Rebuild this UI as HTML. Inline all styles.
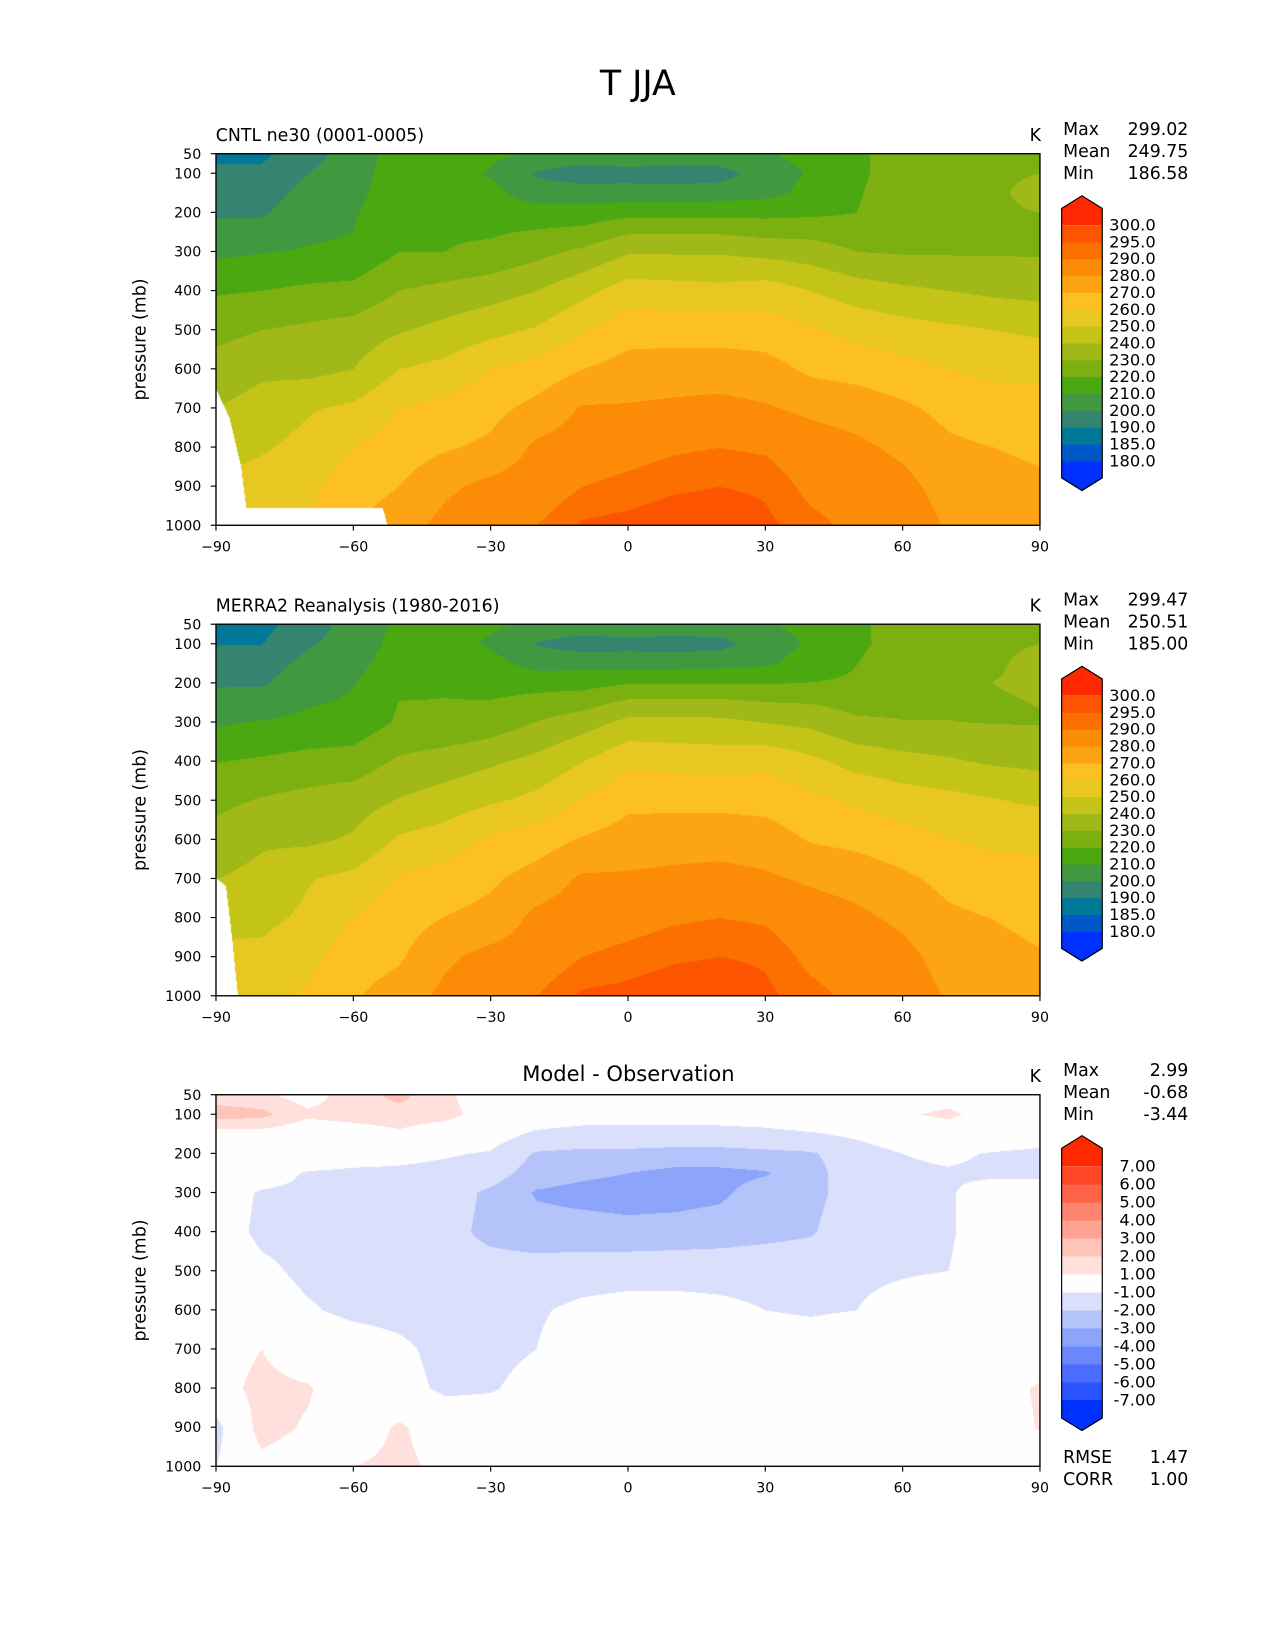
<!DOCTYPE html>
<html><head><meta charset="utf-8">
<style>
html,body{margin:0;padding:0;background:#fff;}
#root{position:relative;width:1275px;height:1650px;overflow:hidden;background:#fff;}
canvas{position:absolute;}
svg{position:absolute;left:0;top:0;}
text{font-family:"DejaVu Sans","Liberation Sans",sans-serif;fill:#000;}
</style></head>
<body>
<div id="root">
<canvas id="c1"></canvas>
<canvas id="c2"></canvas>
<canvas id="c3"></canvas>
<svg id="ov" width="1275" height="1650" viewBox="0 0 1211.3 1567.5">
<text x="606" y="90" font-size="33" text-anchor="middle">T JJA</text>
<text x="205" y="134" font-size="16.5">CNTL ne30 (0001-0005)</text>
<text x="205" y="581" font-size="16.5">MERRA2 Reanalysis (1980-2016)</text>
<text x="597" y="1027" font-size="20" text-anchor="middle">Model - Observation</text>
<text x="989" y="134" font-size="16.5" text-anchor="end">K</text>
<text x="989" y="581" font-size="16.5" text-anchor="end">K</text>
<text x="989" y="1028" font-size="16.5" text-anchor="end">K</text>
<g font-size="16.5">
<text x="1010" y="128">Max</text><text x="1129" y="128" text-anchor="end">299.02</text>
<text x="1010" y="149">Mean</text><text x="1129" y="149" text-anchor="end">249.75</text>
<text x="1010" y="170">Min</text><text x="1129" y="170" text-anchor="end">186.58</text>
</g>
<g font-size="16.5">
<text x="1010" y="575">Max</text><text x="1129" y="575" text-anchor="end">299.47</text>
<text x="1010" y="596">Mean</text><text x="1129" y="596" text-anchor="end">250.51</text>
<text x="1010" y="617">Min</text><text x="1129" y="617" text-anchor="end">185.00</text>
</g>
<g font-size="16.5">
<text x="1010" y="1022">Max</text><text x="1129" y="1022" text-anchor="end">2.99</text>
<text x="1010" y="1043">Mean</text><text x="1129" y="1043" text-anchor="end">-0.68</text>
<text x="1010" y="1064">Min</text><text x="1129" y="1064" text-anchor="end">-3.44</text>
<text x="1010" y="1390">RMSE</text><text x="1129" y="1390" text-anchor="end">1.47</text>
<text x="1010" y="1411">CORR</text><text x="1129" y="1411" text-anchor="end">1.00</text>
</g>
<g id="axes"></g>
</svg>
</div>
<script>
// ---- data ----
const P = [50,100,150,200,250,300,400,500,600,700,800,900,1000];
const lats = [-90,-80,-70,-60,-50,-40,-30,-20,-10,0,10,20,30,40,50,60,70,80,90];
const cntlT = [
[188,188,196,205,214,214,212,209,207,208,207,207,209,213,218,225,226,227,228],
[192,192,200,206,215,215,209,199,194.5,196,195,196,205,211,218,225,226,229,230],
[195,196,203,207,216,216,213,205,205,204,204,205,207,213,219,226,227,229,232],
[199,199,205,209,217,218,215,214,214,217,217,217,217,218,220,226,227,229,230],
[203,203,208,210,219,219,219,221,223,229,229,229,227,227,225,227,228,228,229],
[208,209.5,211,212,220,220,222,227,232,239,239,239,237,235,230,229,229,229,229],
[219,220,222,223,230,233,236,240,247,255,254,253,255,250,245,242,240,238,237],
[227,230,232,234,239,243,247,251,259,266,266,266,265,261,257,254,252,250,248],
[234,238,237,240,250,253,260,264,270,274,275,275,274,268,266,263,260,258,258],
[240,244,249,252,260,263,267,273,281,281,282,283,281,278,276,272,267,264,263],
[246,249,253,260,265,269,272,282,285,287,289,290,289,285,282,278,272,270,268],
[252,254,258,265,270,278,283,285,290,292,294,295,294,288,286,283,276,274,272],
[258,258,261,270,276,283,287,290,296,297,299,299.5,296.5,292,288,286,279,277,275]
];
const merraT = [
[186.5,186.8,195.5,203.5,211.7,212.8,211.7,209,207,208,207,207,209,213,218,224.7,225.7,227,228],
[189.5,189.7,198.8,204.5,213.4,213.6,208.6,199.3,195,196.5,195.5,196.5,205.4,211.2,218,224.2,224.7,228.7,230],
[194.5,195.5,202.8,206.7,215.2,215.8,213.5,206.2,206.4,205.4,205.4,206.4,208.3,214.1,219.8,226.3,227,229,232.3],
[199,199,205.2,209.5,217.7,218.9,216.1,216.1,216.2,219.2,219.3,219.3,219.2,220.1,221.5,227,227.8,230.1,231.3],
[203,203.5,209.1,211.2,220.2,220.3,220.5,223.5,225.8,232,232.3,232.3,230.1,229.3,226.5,228.2,229.1,229.2,230.3],
[208.5,210.6,212.2,213.3,221.3,221.5,224.2,230.1,235.3,242.4,242.4,242.2,239.5,237.3,231.5,230.2,230.1,229.5,229.3],
[219.5,221.2,223.3,224.4,231.4,234.6,238.3,242.6,249.6,257.7,256.6,255.5,257.3,252.1,246.3,243.2,241.1,238.5,237.3],
[227.3,230.8,233.2,235.3,240.5,244.5,248.5,252.5,260.4,267.3,267.3,267.3,266.3,262.3,258.2,255.1,253,250.5,248.2],
[233.7,238.5,237.9,241.2,251.3,254.4,261.3,265.1,270.8,274.7,275.7,275.8,275,269.1,267,263.6,260.3,258,258],
[239.8,243,249.3,252.5,260.8,264.3,268.3,274,281.5,281.3,282.3,283.3,281.4,278.5,276.3,272,267,264,263],
[245.7,247.5,251.8,260.3,265.6,270.2,273.1,282.6,285.3,287,289,290,289,285,282,278,272,269.7,266.8],
[253.5,252.4,257.2,265.3,268.7,278.2,283.2,285,290,292,294,295,294,288,286,283,276,273.8,270.9],
[259,257.5,261,269,274.5,282.5,287,290,296,297,299,299.5,296.5,292,288,286,279,277,275]
];
const diffT = [
[1.5,1.2,0.5,1.5,2.3,1.2,0.3,0,0,0,0,0,0,0,0,0.3,0.3,0,0],
[2.5,2.3,1.2,1.5,1.6,1.4,0.4,-0.3,-0.5,-0.5,-0.5,-0.5,-0.4,-0.2,0,0.8,1.3,0.3,0],
[0.5,0.5,0.2,0.3,0.8,0.2,-0.5,-1.2,-1.4,-1.4,-1.4,-1.4,-1.3,-1.1,-0.8,-0.3,0,0,-0.3],
[0,0,-0.2,-0.5,-0.7,-0.9,-1.1,-2.1,-2.2,-2.2,-2.3,-2.3,-2.2,-2.1,-1.5,-1.0,-0.8,-1.1,-1.3],
[0,-0.5,-1.1,-1.2,-1.2,-1.3,-1.5,-2.5,-2.8,-3.0,-3.3,-3.3,-3.1,-2.3,-1.5,-1.2,-1.1,-1.2,-1.3],
[-0.5,-1.1,-1.2,-1.3,-1.3,-1.5,-2.2,-3.1,-3.3,-3.4,-3.4,-3.2,-2.5,-2.3,-1.5,-1.2,-1.1,-0.5,-0.3],
[-0.5,-1.2,-1.3,-1.4,-1.4,-1.6,-2.3,-2.6,-2.6,-2.7,-2.6,-2.5,-2.3,-2.1,-1.3,-1.2,-1.1,-0.5,-0.3],
[-0.3,-0.8,-1.2,-1.3,-1.5,-1.5,-1.5,-1.5,-1.4,-1.3,-1.3,-1.3,-1.3,-1.3,-1.2,-1.1,-1.0,-0.5,-0.2],
[0.3,-0.5,-0.9,-1.2,-1.3,-1.4,-1.3,-1.1,-0.8,-0.7,-0.7,-0.8,-1.0,-1.1,-1.0,-0.6,-0.3,0,0],
[0.2,1.0,-0.3,-0.5,-0.8,-1.3,-1.3,-1.0,-0.5,-0.3,-0.3,-0.3,-0.4,-0.5,-0.3,0,0,0,0],
[0.3,1.5,1.2,-0.3,-0.6,-1.2,-1.1,-0.6,-0.3,0,0,0,0,0,0,0,0,0.3,1.2],
[-1.5,1.6,0.8,-0.3,1.3,-0.2,-0.2,0,0,0,0,0,0,0,0,0,0,0.2,1.1],
[-1.0,0.5,0,1.0,1.5,0.5,0,0,0,0,0,0,0,0,0,0,0,0,0]
];
const cntlMaskLat = [-90,-87,-84.5,-83.4,-53.6,-52.5];
const cntlMaskPs  = [650,725,850,953,953,1000];
const merraMaskLat = [-90,-87.8,-86.5,-85.2];
const merraMaskPs  = [698,720,850,1000];
const tLevels = [180,185,190,200,210,220,230,240,250,260,270,280,290,295,300];
const tColors = ['#0030ff','#0058c8','#007898','#348470','#409840','#4ca810','#7cb010','#a0b818','#c4c418','#e8c820','#fcc020','#fca414','#fc8c08','#fc7000','#fc5400','#ff2800'];
const tLabels = ['180.0','185.0','190.0','200.0','210.0','220.0','230.0','240.0','250.0','260.0','270.0','280.0','290.0','295.0','300.0'];
const dLevels = [-7,-6,-5,-4,-3,-2,-1,1,2,3,4,5,6,7];
const dColors = ['#0031ff','#2a52ff','#4a6cff','#6a88fa','#8ca4fa','#b4c4fb','#dae0fb','#fefefe','#ffe0dc','#ffc4b8','#ffa494','#ff8470','#ff6448','#ff4626','#ff2a00'];
const dLabels = ['-7.00','-6.00','-5.00','-4.00','-3.00','-2.00','-1.00','1.00','2.00','3.00','4.00','5.00','6.00','7.00'];
const xTicks = [-90,-60,-30,0,30,60,90];
const xTickLabels = ['\u221290','\u221260','\u221230','0','30','60','90'];
const yTicks = [50,100,200,300,400,500,600,700,800,900,1000];

// ---- geometry (viewBox units) ----
const S = 1275/1211.3;
const AX0 = 205.2, AXW = 782.8, AXH = 353;
const panelTops = [146, 593, 1040];
function xScale(lat){ return AX0 + (lat+90)/180*AXW; }
function yScale(p, top){ return top + (p-50)/950*AXH; }

function hex(c){ return [parseInt(c.substr(1,2),16),parseInt(c.substr(3,2),16),parseInt(c.substr(5,2),16)]; }
function interp1(xs, ys, x){
  if (x<=xs[0]) return ys[0];
  for (let i=0;i<xs.length-1;i++){ if (x<=xs[i+1]){ const t=(x-xs[i])/(xs[i+1]-xs[i]); return ys[i]+t*(ys[i+1]-ys[i]); } }
  return ys[ys.length-1];
}
function field(grid, lat, p){
  let j=0; while (j<lats.length-2 && lat>lats[j+1]) j++;
  let i=0; while (i<P.length-2 && p>P[i+1]) i++;
  const tx=Math.min(1,Math.max(0,(lat-lats[j])/(lats[j+1]-lats[j])));
  const ty=Math.min(1,Math.max(0,(p-P[i])/(P[i+1]-P[i])));
  const a=grid[i][j], b=grid[i][j+1], c=grid[i+1][j], d=grid[i+1][j+1];
  return (a*(1-tx)+b*tx)*(1-ty)+(c*(1-tx)+d*tx)*ty;
}
function drawField(id, top, grid, levels, colors, mLat, mPs){
  const cv=document.getElementById(id);
  const W=Math.round(AXW*S), H=Math.round(AXH*S);
  cv.width=W; cv.height=H;
  cv.style.left=(AX0*S)+'px'; cv.style.top=(top*S)+'px';
  cv.style.width=W+'px'; cv.style.height=H+'px';
  const ctx=cv.getContext('2d');
  const img=ctx.createImageData(W,H);
  const rgb=colors.map(hex);
  for (let py=0;py<H;py++){
    const p=50+950*(py+0.5)/H;
    for (let px=0;px<W;px++){
      const lat=-90+180*(px+0.5)/W;
      let col;
      if (mLat && lat<=mLat[mLat.length-1] && p>interp1(mLat,mPs,lat)) col=[255,255,255];
      else {
        const v=field(grid,lat,p);
        let k=0; while (k<levels.length && v>=levels[k]) k++;
        col=rgb[k];
      }
      const o=(py*W+px)*4;
      img.data[o]=col[0]; img.data[o+1]=col[1]; img.data[o+2]=col[2]; img.data[o+3]=255;
    }
  }
  ctx.putImageData(img,0,0);
}
drawField('c1', panelTops[0], cntlT, tLevels, tColors, cntlMaskLat, cntlMaskPs);
drawField('c2', panelTops[1], merraT, tLevels, tColors, merraMaskLat, merraMaskPs);
drawField('c3', panelTops[2], diffT, dLevels, dColors, null, null);

// ---- axes, ticks, colorbars ----
const NS='http://www.w3.org/2000/svg';
const g=document.getElementById('axes');
function mk(tag, attrs, parent){ const e=document.createElementNS(NS,tag); for (const k in attrs) e.setAttribute(k,attrs[k]); (parent||g).appendChild(e); return e; }
const panelNames=['cntl','merra2','diff'];
panelTops.forEach((top,pi)=>{
  const frame=mk('rect',{x:AX0,y:top,width:AXW,height:AXH,fill:'none',stroke:'#000','stroke-width':1.3});
  
  
  xTicks.forEach((lat,k)=>{
    const x=xScale(lat);
    const t=mk('line',{x1:x,x2:x,y1:top+AXH,y2:top+AXH+5,stroke:'#000','stroke-width':1.1});
    
    
    const l=mk('text',{x:x,y:top+AXH+25,'font-size':13.5,'text-anchor':'middle'});
    l.textContent=xTickLabels[k];
    
    
  });
  yTicks.forEach(p=>{
    const y=yScale(p,top);
    const t=mk('line',{x1:AX0-5,x2:AX0,y1:y,y2:y,stroke:'#000','stroke-width':1.1});
    
    
    const l=mk('text',{x:AX0-14,y:y+4.8,'font-size':13.5,'text-anchor':'end'});
    l.textContent=String(p);
    
    
  });
  const yl=mk('text',{x:0,y:0,'font-size':16.5,'text-anchor':'middle',transform:'translate(138,'+(top+AXH/2)+') rotate(-90)'});
  yl.textContent='pressure (mb)';
  
  
});

function colorbar(top, levels, colors, labels, step, name){
  const x0=1008.6, x1=1047.2, xm=(x0+x1)/2;
  const n=levels.length;
  const firstB=top; // y of highest level boundary
  const yB=k=>firstB+(n-1-k)*step; // boundary y of level k
  // top segment (>max) with tip
  const topRect=firstB-step, tipH=12;
  let e=mk('path',{d:`M${x0},${firstB} L${x0},${topRect} L${xm},${topRect-tipH} L${x1},${topRect} L${x1},${firstB} Z`,fill:colors[n]});
  
  
  for (let k=0;k<n-1;k++){
    e=mk('rect',{x:x0,y:yB(k+1),width:x1-x0,height:step+0.3,fill:colors[k+1]});
    
    
  }
  const bot=yB(0)+step;
  e=mk('path',{d:`M${x0},${yB(0)} L${x0},${bot} L${xm},${bot+tipH} L${x1},${bot} L${x1},${yB(0)} Z`,fill:colors[0]});
  
  
  e=mk('path',{d:`M${x0},${bot} L${x0},${topRect} L${xm},${topRect-tipH} L${x1},${topRect} L${x1},${bot} L${xm},${bot+tipH} Z`,fill:'none',stroke:'#000','stroke-width':1.1});
  
  
  for (let k=0;k<n;k++){
    const t=mk('text',{x:1098,y:yB(k)+5,'font-size':15.5,'text-anchor':'end'});
    t.textContent=labels[k];
    
    
  }
}
colorbar(214, tLevels, tColors, tLabels, 16, 'cntl');
colorbar(661, tLevels, tColors, tLabels, 16, 'merra2');
colorbar(1108, dLevels, dColors, dLabels, 17.08, 'diff');
</script>
</body></html>
